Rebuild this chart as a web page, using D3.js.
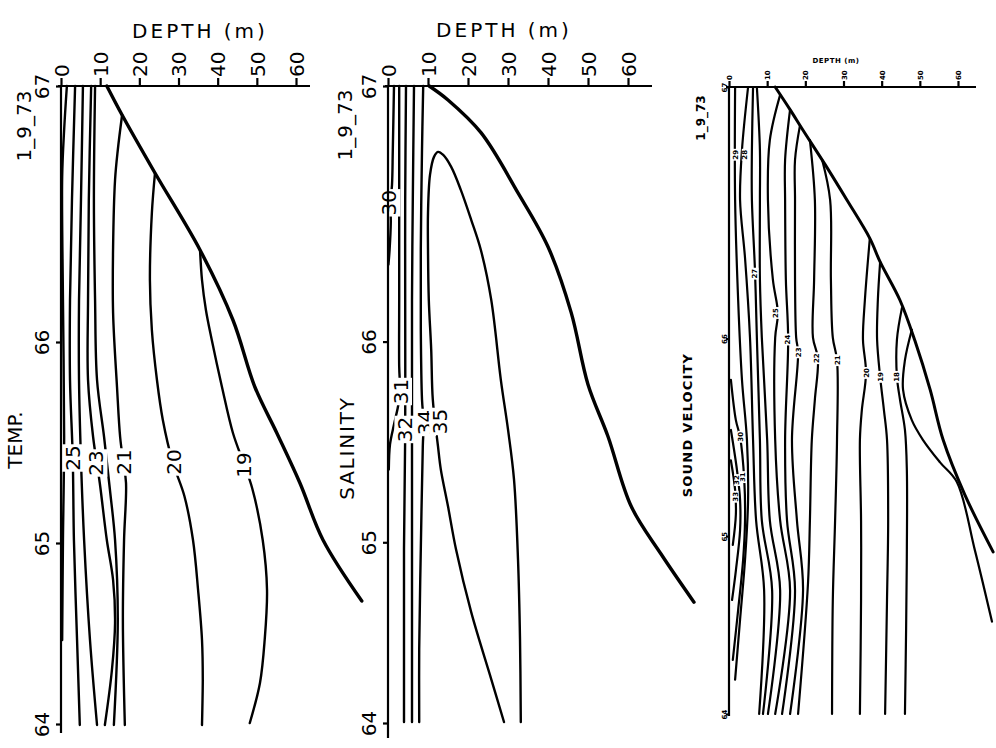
<!DOCTYPE html>
<html><head><meta charset="utf-8">
<script src="https://cdn.jsdelivr.net/npm/d3@7/dist/d3.min.js"></script>
<style>html,body{margin:0;padding:0;background:#fff;}svg{display:block;}</style>
</head><body>
<svg id="chart" width="996" height="748"></svg>
<script>
// ---------- shared axis data ----------
const stations = ["67", "66", "65", "64"];
const stationDist = [0, 25.6, 45.7, 63.8];      // distance along the section
const depthTicks = [0, 10, 20, 30, 40, 50, 60];  // m
const dateLabel = "1_9_73";
const depthTitle = "DEPTH (m)";

// ---------- TEMPERATURE (points are [distance, depth]) ----------
const tempSeabed = [[0,11.7],[2.9,15.6],[8.7,24.0],[16.4,35.5],[23.4,43.9],[30.1,49.5],[34.7,55.1],[39.7,61.0],[45.4,66.9],[51.5,76.8]];
const tempValues = [26, 25, 24, 23, 22, 21, 20, 19];
const tempContours = [
  [[0,1.5],[4.4,0.8],[9.1,0.3],[21.4,0.5],[35.1,0.8],[45.4,0.5],[55.4,0.3]],
  [[0,3.6],[11.4,2.8],[21.4,2.3],[29.4,2.3],[37.2,3.0],[45.4,3.3],[55.4,4.1],[63.9,4.8]],
  [[0,5.6],[11.4,5.1],[21.4,4.6],[29.4,4.6],[37.4,5.1],[45.4,5.9],[55.4,7.4],[63.9,9.2]],
  [[0,7.7],[11.4,7.1],[21.4,6.9],[29.4,6.9],[35.1,8.2],[39.7,9.9],[45.4,11.7],[49.4,13.3],[53.7,13.8],[58.4,13.0],[63.9,11.2]],
  [[0,8.7],[11.4,8.4],[21.4,8.7],[29.4,9.2],[35.1,11.0],[40.4,12.5],[45.4,13.8],[53.4,14.5],[63.9,13.5]],
  [[2.9,15.6],[6.4,14.5],[9.4,13.8],[16.1,13.3],[22.7,13.3],[30.1,14.3],[35.1,15.1],[37.6,15.9],[39.7,16.6],[45.4,16.1],[53.4,15.8],[63.9,16.3]],
  [[8.7,24.0],[12.7,23.2],[19.4,22.7],[24.4,23.2],[29.4,24.5],[33.4,26.0],[37.6,28.5],[41.0,31.5],[45.4,33.7],[50.4,35.0],[55.4,36.0],[59.4,36.2],[63.9,36.0]],
  [[16.4,35.5],[19.4,36.0],[22.4,37.0],[25.4,38.5],[30.1,41.1],[34.7,43.9],[37.9,46.8],[40.2,48.8],[45.4,51.5],[50.4,52.6],[55.4,52.0],[59.7,50.8],[63.7,48.2]]
];
const tempLabelText = ["25", "23", "21", "20", "19"];
const tempLabelAt = [[37.2,3.0],[37.7,9.0],[37.6,16.0],[37.6,28.8],[37.9,46.6]];

// ---------- SALINITY ----------
const salSeabed = [[0,10.3],[1.4,15],[4.7,23.3],[10.7,32.5],[16.1,40],[22.7,45.8],[29.9,50],[35.1,55],[42.1,60.8],[46.9,68.3],[51.7,76.5]];
const salValues = [30, 31, 32, 33, 34, 35];
const salContours = [
  [[0,1.5],[6.4,1.2],[9.9,1.0],[11.7,0.6],[13.6,0.7],[16.4,0.4],[17.9,0.1]],
  [[0,2.8],[11.4,2.8],[21.4,2.8],[28.1,2.8],[30.6,3.0],[32.1,2.5],[33.9,1.5],[35.9,0.5],[38.4,0.2]],
  [[0,4.5],[11.4,4.3],[21.4,4.3],[34.4,4.3],[46.4,4.0],[56.4,4.0],[63.7,4.0]],
  [[0,6.5],[11.4,6.2],[21.4,6.0],[33.4,6.0],[46.4,6.0],[63.7,6.0]],
  [[0,8.8],[6.4,8.5],[16.4,8.2],[24.4,8.2],[31.4,8.5],[33.7,8.9],[36.1,8.7],[46.4,8.2],[56.4,7.8],[63.7,7.8]],
  [[63.7,29.0],[59.4,25.8],[52.7,20.8],[46.4,17.0],[42.1,15.0],[38.4,13.2],[36.1,12.5],[31.4,11.2],[26.4,10.8],[21.4,10.2],[16.4,10.0],[12.7,10.0],[8.9,10.5],[7.1,11.5],[6.6,12.5],[6.9,13.8],[8.1,15.8],[10.4,18.2],[13.4,20.8],[16.4,23.2],[21.4,25.8],[29.4,28.2],[34.4,30.0],[39.4,31.5],[47.4,32.5],[55.4,33.0],[63.7,33.2]]
];
const salLabelText = ["30", "31", "32", "34", "35"];
const salLabelAt = [[11.7,0.3],[30.6,3.2],[34.4,4.3],[33.7,9.2],[33.6,13.0]];

// ---------- SOUND VELOCITY ----------
const svSeabed = [[0,12.1],[2.3,16.0],[4.4,19.4],[7.9,25.2],[11.5,30.9],[15.4,36.9],[17.8,39.6],[21.7,44.8],[25.8,48.7],[30.8,52.7],[35.9,56.1],[41.5,61.8],[47.3,69.2]];
const svValues = [17, 18, 19, 20, 21, 22, 23, 24, 25, 26, 27, 28, 29, 30, 31, 32];
const svContours = [
  [[24.7,47.9],[27.8,46.1],[30.8,45.6],[33.9,47.9],[35.9,50.8],[38.2,55.3],[40.2,59.7],[47.1,64.4],[54.4,68.9]],
  [[22.5,45.3],[25.7,44.0],[29.5,44.0],[31.8,44.8],[34.9,46.1],[39.0,46.6],[47.1,46.6],[55.3,46.4],[63.8,46.1]],
  [[17.8,39.6],[21.7,39.0],[25.7,38.8],[29.5,39.6],[32.9,40.6],[35.9,41.4],[44.1,41.7],[52.2,41.4],[63.8,40.9]],
  [[15.4,36.9],[21.7,35.6],[25.7,35.1],[29.1,35.9],[32.9,34.8],[35.9,34.3],[44.1,34.6],[52.2,34.6],[63.8,34.3]],
  [[7.4,24.4],[11.5,26.5],[19.6,26.7],[25.5,27.2],[27.8,28.3],[35.9,28.3],[44.1,27.8],[52.2,27.2],[63.8,27.0]],
  [[5.4,21.2],[11.5,22.5],[19.6,22.3],[25.5,22.0],[27.6,23.3],[31.8,22.5],[35.9,21.7],[44.1,21.2],[50.5,20.7],[63.8,18.1]],
  [[3.9,18.6],[7.4,17.3],[11.5,17.3],[19.6,17.3],[25.5,17.6],[27.0,18.1],[35.9,16.5],[44.1,17.8],[51.2,19.4],[63.8,16.0]],
  [[2.3,16.0],[7.4,14.7],[11.5,14.7],[19.6,14.9],[25.7,15.5],[35.9,14.7],[44.1,15.2],[51.2,17.3],[63.8,13.9]],
  [[0.8,13.4],[5.4,10.7],[11.5,10.2],[19.6,11.5],[23.0,12.8],[25.5,12.1],[35.9,12.1],[44.1,13.4],[51.2,16.0],[63.8,12.1]],
  [[0,7.3],[6.4,8.1],[11.5,8.1],[19.6,8.1],[25.5,8.6],[35.9,10.0],[44.1,10.7],[51.2,13.4],[63.8,10.2]],
  [[0,6.3],[6.4,6.0],[11.5,6.0],[18.6,6.8],[25.5,7.3],[35.9,8.1],[44.1,8.6],[51.2,11.3],[63.8,8.9]],
  [[0,5.0],[6.4,3.4],[11.5,2.9],[17.4,4.2],[25.5,5.5],[35.9,6.3],[44.1,7.1],[51.2,9.2],[63.8,7.9]],
  [[0,1.6],[11.5,1.6],[21.7,2.4],[29.8,3.4],[35.9,4.7],[42.0,5.0],[48.1,4.2],[54.2,2.9],[60.3,1.6]],
  [[29.8,0.5],[33.9,1.8],[35.6,2.9],[40.0,4.0],[44.1,4.2],[48.1,3.7],[53.2,2.4],[58.3,1.0]],
  [[34.9,0.5],[39.0,2.1],[42.0,2.9],[45.1,2.9],[49.2,1.8],[52.2,0.8]],
  [[38.0,0.5],[41.0,1.6],[43.5,1.8],[46.6,1.0]]
];
const svLabelText = ["29","28","27","25","24","23","22","21","20","19","18","30","31","32","33"];
const svLabelAt = [[6.9,1.6],[6.9,4.0],[19.0,6.8],[23.0,12.3],[25.7,15.4],[27.0,18.1],[27.6,23.0],[27.8,28.3],[29.1,35.9],[29.5,39.6],[29.5,44.0],[35.6,3.0],[39.7,3.6],[40.0,2.0],[41.7,1.6]];

// ---------- drawing ----------
const svg = d3.select("#chart");
const FONT = "'DejaVu Sans', 'Liberation Sans', sans-serif";

function drawPanel(c) {
  const g = svg.append("g");
  const x = d3.scaleLinear().domain([0, 60]).range(c.xr);
  const y = d3.scaleLinear().domain([0, stationDist[3]]).range(c.yr);
  const line = d3.line().x(d => x(d[1])).y(d => y(d[0])).curve(d3.curveCatmullRom.alpha(0.5));

  // contour lines
  g.selectAll("path.contour").data(c.contours).join("path")
    .attr("class", "contour").attr("d", line)
    .attr("fill", "none").attr("stroke", "#000").attr("stroke-width", c.lw)
    .attr("stroke-linecap", "round").attr("stroke-linejoin", "round");

  // sea bottom
  g.append("path").attr("d", line(c.seabed)).attr("fill", "none")
    .attr("stroke", "#000").attr("stroke-width", c.sw).attr("stroke-linecap", "round");

  // contour labels (knock out the line behind)
  c.labelText.forEach((t, i) => {
    const p = c.labelAt[i];
    const lg = g.append("g").attr("transform", `translate(${x(p[1])},${y(p[0])}) rotate(-90)`);
    const rect = lg.append("rect").attr("fill", "#fff");
    const tx = lg.append("text").text(t).attr("text-anchor", "middle").attr("dy", "0.36em")
      .attr("font-family", FONT).attr("font-size", c.labelSize).attr("font-weight", c.weight);
    const b = tx.node().getBBox();
    rect.attr("x", b.x - 1).attr("y", b.y + 1).attr("width", b.width + 2).attr("height", b.height - 2);
  });

  // top depth axis
  const ax = g.append("g").attr("transform", `translate(0,${c.yr[0]})`)
    .call(d3.axisTop(x).tickValues(depthTicks).tickSizeInner(c.tick).tickSizeOuter(0).tickFormat(d3.format("d")));
  ax.select(".domain").remove();
  ax.selectAll(".tick line").attr("stroke", "#000").attr("stroke-width", c.axw);
  ax.selectAll(".tick text").attr("transform", "rotate(-90)").attr("x", c.tick + 1).attr("y", 0)
    .attr("dy", "0.36em").attr("text-anchor", "start")
    .attr("font-family", FONT).attr("font-size", c.tickSize).attr("font-weight", c.weight).attr("fill", "#000");
  g.append("line").attr("x1", c.xr[0] - 3).attr("x2", c.axisEnd).attr("y1", c.yr[0]).attr("y2", c.yr[0])
    .attr("stroke", "#000").attr("stroke-width", c.axw);

  // left station axis
  const ay = g.append("g").attr("transform", `translate(${c.xr[0]},0)`)
    .call(d3.axisLeft(y).tickValues(stationDist).tickSizeInner(c.ltick).tickSizeOuter(0).tickFormat((d, i) => stations[i]));
  ay.select(".domain").remove();
  ay.selectAll(".tick line").attr("stroke", "#000").attr("stroke-width", c.axw);
  ay.selectAll(".tick text").attr("transform", "rotate(-90)").attr("x", 0).attr("y", -c.loff)
    .attr("dy", "0.36em").attr("text-anchor", "middle")
    .attr("font-family", FONT).attr("font-size", c.tickSize).attr("font-weight", c.weight).attr("fill", "#000");
  g.append("line").attr("x1", c.xr[0]).attr("x2", c.xr[0]).attr("y1", c.yr[0]).attr("y2", c.leftEnd)
    .attr("stroke", "#000").attr("stroke-width", c.axw);

  // texts
  g.append("text").text(depthTitle).attr("x", c.title[0]).attr("y", c.title[1]).attr("text-anchor", "middle")
    .attr("font-family", FONT).attr("font-size", c.titleSize).attr("font-weight", c.weight)
    .attr("letter-spacing", c.titleSpacing);
  g.append("text").text(dateLabel)
    .attr("transform", `translate(${c.date[0]},${c.date[1]}) rotate(-90)`)
    .attr("text-anchor", "middle").attr("dy", "0.36em")
    .attr("font-family", FONT).attr("font-size", c.dateSize).attr("font-weight", c.weight);
  g.append("text").text(c.name)
    .attr("transform", `translate(${c.nameAt[0]},${c.nameAt[1]}) rotate(-90)`)
    .attr("text-anchor", "middle").attr("dy", "0.36em")
    .attr("font-family", FONT).attr("font-size", c.nameSize).attr("font-weight", c.weight)
    .attr("letter-spacing", c.nameSpacing);
}

drawPanel({
  xr: [61, 296], yr: [86, 724], axisEnd: 310, leftEnd: 733,
  contours: tempContours, seabed: tempSeabed, labelText: tempLabelText, labelAt: tempLabelAt,
  lw: 2.4, sw: 3.4, axw: 2.2, tick: 8, ltick: 5, loff: 19, labelSize: 20, tickSize: 20, weight: "normal",
  title: [200, 38], titleSize: 20, titleSpacing: 3,
  date: [24, 126], dateSize: 20, name: "TEMP.", nameAt: [15, 440], nameSize: 20, nameSpacing: 0
});
drawPanel({
  xr: [388, 628], yr: [86, 723], axisEnd: 652, leftEnd: 738,
  contours: salContours, seabed: salSeabed, labelText: salLabelText, labelAt: salLabelAt,
  lw: 2.4, sw: 3.4, axw: 2.2, tick: 8, ltick: 5, loff: 19, labelSize: 20, tickSize: 20, weight: "normal",
  title: [504, 37], titleSize: 20, titleSpacing: 3,
  date: [345, 125], dateSize: 20, name: "SALINITY", nameAt: [347, 448], nameSize: 20, nameSpacing: 1.8
});
drawPanel({
  xr: [729, 958], yr: [87, 714], axisEnd: 976, leftEnd: 716,
  contours: svContours, seabed: svSeabed, labelText: svLabelText, labelAt: svLabelAt,
  lw: 2.2, sw: 3.0, axw: 2.2, tick: 6, ltick: 3, loff: 5, labelSize: 7, tickSize: 7, weight: "bold",
  title: [836, 63], titleSize: 7, titleSpacing: 0.5,
  date: [701, 118], dateSize: 12, name: "SOUND VELOCITY", nameAt: [687, 425], nameSize: 13, nameSpacing: 1.2
});
</script>
</body></html>
